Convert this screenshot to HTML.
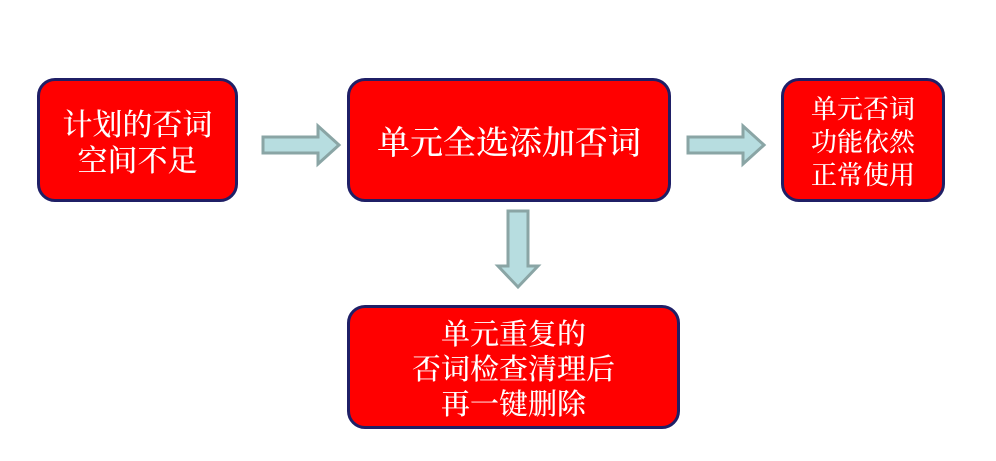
<html><head><style>
body{margin:0;width:996px;height:461px;background:#fff;position:relative;overflow:hidden}
.b{position:absolute;box-sizing:border-box;background:#ff0000;border:3px solid #1f1f66;border-radius:18px;color:#fff;display:flex;align-items:center;justify-content:center;text-align:center;font-family:"Noto Serif CJK SC","WenQuanYi Zen Hei",serif;font-weight:500}
</style></head><body>
<div class="b" style="left:37px;top:78px;width:201px;height:124px;font-size:30px;line-height:36px">计划的否词<br>空间不足</div>
<div class="b" style="left:347px;top:78px;width:324px;height:124px;font-size:33px">单元全选添加否词</div>
<div class="b" style="left:781px;top:78px;width:164px;height:124px;font-size:26px;line-height:33px">单元否词<br>功能依然<br>正常使用</div>
<div class="b" style="left:347px;top:305px;width:333px;height:124px;font-size:29px;line-height:35px">单元重复的<br>否词检查清理后<br>再一键删除</div>
<svg width="996" height="461" style="position:absolute;left:0;top:0">
<g fill="#b7dde0" stroke="#8aa5a5" stroke-width="3" stroke-linejoin="miter">
<polygon points="263,137 318,137 318,126 339,145 318,164 318,153 263,153"/>
<polygon points="688,137 743,137 743,126 764,145 743,164 743,153 688,153"/>
<polygon points="508,211 528,211 528,266 538,266 518,287 498,266 508,266"/>
</g></svg>
</body></html>
